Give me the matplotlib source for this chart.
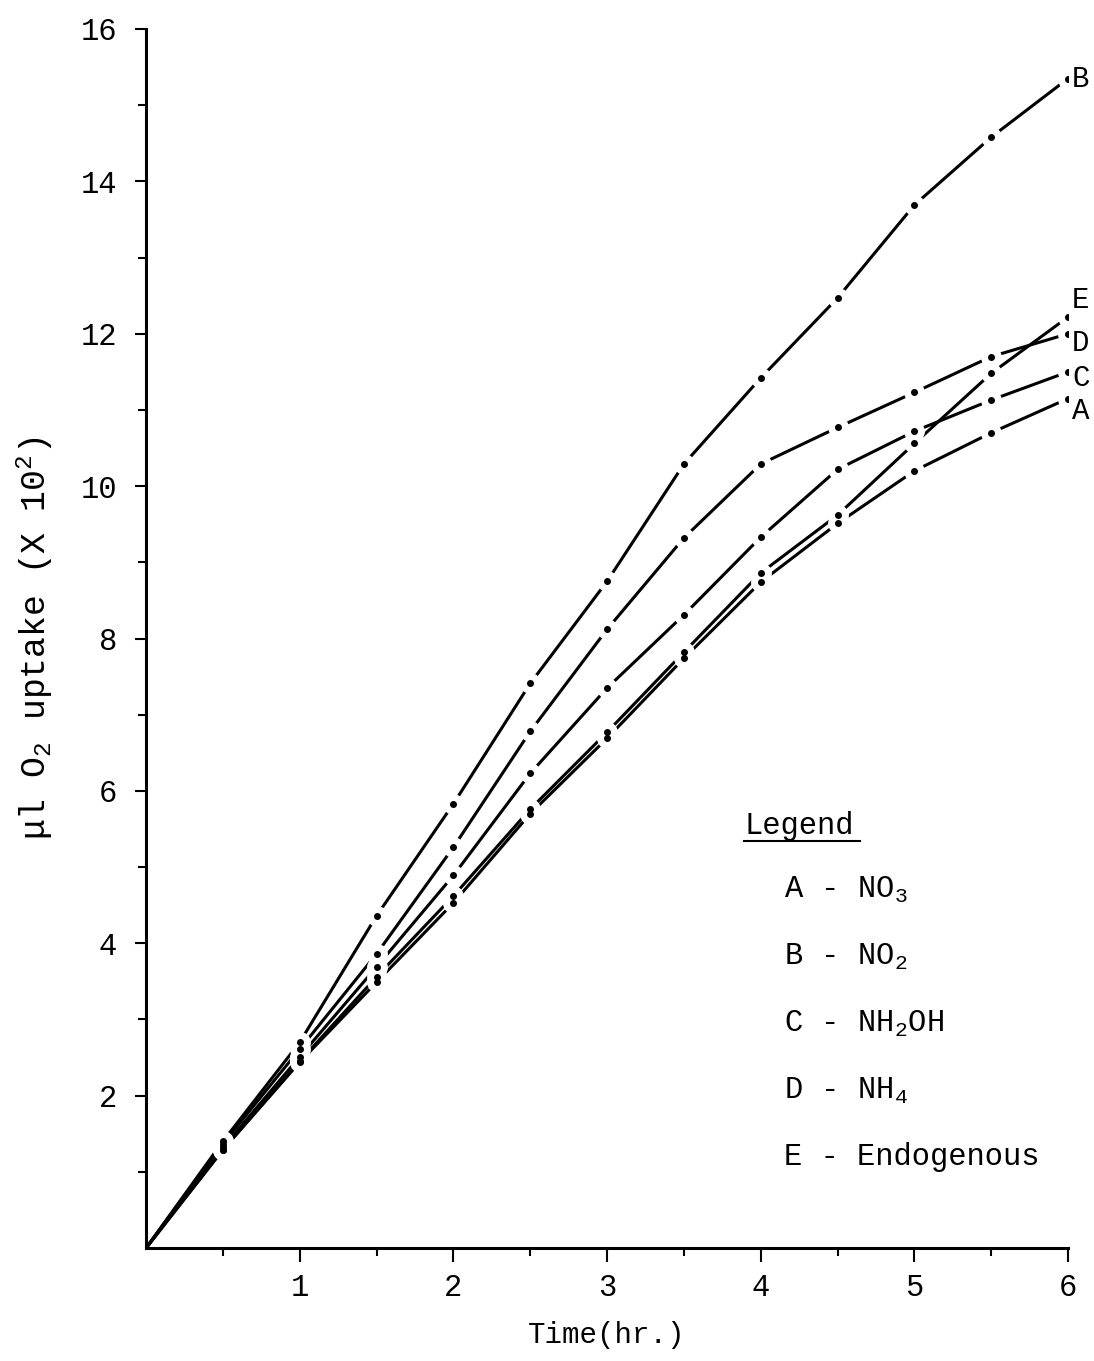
import numpy as np
import matplotlib
matplotlib.use("Agg")
import matplotlib.pyplot as plt
from matplotlib.lines import Line2D

plt.rcParams['font.family'] = ['Liberation Mono', 'DejaVu Sans']
plt.rcParams['mathtext.default'] = 'regular'

# values (ul O2 x 10^2)
hours = [0, 0.5, 1, 1.5, 2, 2.5, 3, 3.5, 4, 4.5, 5, 5.5, 6]
uptake_a = [0, 1.29, 2.44, 3.49, 4.53, 5.70, 6.69, 7.74, 8.74, 9.51, 10.20, 10.70, 11.15]
uptake_b = [0, 1.40, 2.70, 4.36, 5.83, 7.41, 8.75, 10.29, 11.42, 12.47, 13.69, 14.58, 15.35]
uptake_c = [0, 1.32, 2.51, 3.69, 4.89, 6.23, 7.35, 8.31, 9.33, 10.22, 10.72, 11.13, 11.50]
uptake_d = [0, 1.37, 2.61, 3.86, 5.26, 6.78, 8.12, 9.32, 10.29, 10.77, 11.23, 11.70, 12.00]
uptake_e = [0, 1.29, 2.45, 3.56, 4.62, 5.76, 6.77, 7.82, 8.86, 9.62, 10.56, 11.48, 12.22]

letters = ['A', 'B', 'C', 'D', 'E']
names = ['NO$_3$', 'NO$_2$', 'NH$_2$OH', 'NH$_4$', 'Endogenous']
series = [uptake_a, uptake_b, uptake_c, uptake_d, uptake_e]
# vertical nudge (points) of the end letters
label_dy = {'A': -9, 'B': 0, 'C': -4.5, 'D': -6.5, 'E': 12}

fig = plt.figure(figsize=(10.94, 13.61), dpi=100)
ax = fig.add_axes([0.1335, 0.083, 0.8428, 0.8957])

x = np.array(hours)
for y in series:
    ax.plot(x, y, color='black', lw=2.2, zorder=2, solid_capstyle='butt')
for y in series:
    ax.plot(x[1:], y[1:], ls='none', marker='o', ms=14, mfc='white', mec='white', zorder=3)
for y in series:
    ax.plot(x[1:], y[1:], ls='none', marker='o', ms=4, mfc='black', mec='black', zorder=4)

for let, y in zip(letters, series):
    ax.annotate(let, (x[-1], y[-1]), xytext=(3, label_dy[let]), textcoords='offset points',
                ha='left', va='center', fontsize=21, annotation_clip=False)

ax.set_xlim(0, 6)
ax.set_ylim(0, 16)
ax.set_xticks(range(1, 7))
ax.set_xticks(np.arange(0.5, 6, 1.0), minor=True)
ax.set_yticks(range(2, 17, 2))
ax.set_yticks(range(1, 16, 2), minor=True)
ax.tick_params(axis='both', which='major', direction='out', width=1.5, labelsize=22)
ax.tick_params(axis='x', which='major', length=10, pad=8)
ax.tick_params(axis='y', which='major', length=8, pad=13)
ax.tick_params(axis='both', which='minor', direction='out', width=1.5, length=6)
for s in ['top', 'right']:
    ax.spines[s].set_visible(False)
for s in ['left', 'bottom']:
    ax.spines[s].set_linewidth(2.2)

ax.set_xlabel('Time(hr.)', fontsize=21, labelpad=13)
ax.set_ylabel(r'$\mu$l O$_2$ uptake (X 10$^2$)', fontsize=25, labelpad=18)

# legend block
ax.text(0.6486, 0.3396, 'Legend', transform=ax.transAxes, fontsize=22, va='baseline')
ax.add_line(Line2D([0.6486, 0.774], [0.334, 0.334], transform=ax.transAxes,
                   color='black', lw=1.5))
for i, (let, nm) in enumerate(zip(letters, names)):
    ax.text(0.692, 0.2871 - i * 0.0548, f'{let} - {nm}', transform=ax.transAxes,
            fontsize=22, va='baseline')

plt.savefig('out.png', dpi=100)
